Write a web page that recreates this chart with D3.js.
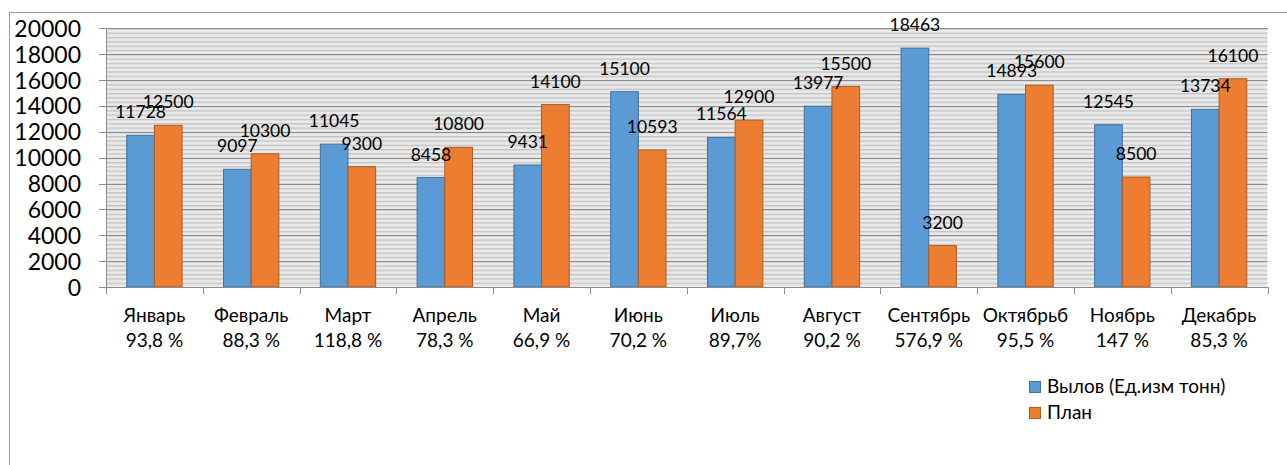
<!DOCTYPE html>
<html>
<head>
<meta charset="utf-8">
<script src="https://cdn.jsdelivr.net/npm/d3@7"></script>
<style>
  body { margin: 0; background: #fff; }
  svg { display: block; font-family: Lato, "Open Sans", sans-serif; }
</style>
</head>
<body>
<svg id="chart" width="1287" height="465"></svg>
<script>
// data
const months = ["Январь", "Февраль", "Март", "Апрель", "Май", "Июнь", "Июль", "Август", "Сентябрь", "Октябрьб", "Ноябрь", "Декабрь"];
const percents = ["93,8 %", "88,3 %", "118,8 %", "78,3 %", "66,9 %", "70,2 %", "89,7%", "90,2 %", "576,9 %", "95,5 %", "147 %", "85,3 %"];
const catchValues = [11728, 9097, 11045, 8458, 9431, 15100, 11564, 13977, 18463, 14893, 12545, 13734];
const planValues = [12500, 10300, 9300, 10800, 14100, 10593, 12900, 15500, 3200, 15600, 8500, 16100];
const seriesNames = ["Вылов (Ед.изм тонн)", "План"];
const yTicks = [0, 2000, 4000, 6000, 8000, 10000, 12000, 14000, 16000, 18000, 20000];

const colors = ["#5b9bd5", "#ed7d31"];
const strokes = ["#41719c", "#ae5a21"];

const svg = d3.select("#chart");

// outer chart border
svg.append("rect")
  .attr("x", 9.5).attr("y", 12.5)
  .attr("width", 1300).attr("height", 480)
  .attr("fill", "none").attr("stroke", "#9a9a9a");

const plotLeft = 106, plotRight = 1267.5, plotTop = 28.3, plotBottom = 287;

const x = d3.scaleBand().domain(months).range([plotLeft, plotRight]).padding(0);
const y = d3.scaleLinear().domain([0, 20000]).range([plotBottom, plotTop]);

// hatched plot background
const step = (y(0) - y(2000)) / 6;
const defs = svg.append("defs");
const pat = defs.append("pattern")
  .attr("id", "hatch")
  .attr("patternUnits", "userSpaceOnUse")
  .attr("x", 0).attr("y", plotTop)
  .attr("width", 8).attr("height", step);
pat.append("rect").attr("width", 8).attr("height", step).attr("fill", "#e9e9e9");
pat.append("rect").attr("y", 0).attr("width", 8).attr("height", 1.3).attr("fill", "#c3c3c3");

svg.append("rect")
  .attr("x", plotLeft).attr("y", plotTop)
  .attr("width", plotRight - plotLeft).attr("height", plotBottom - plotTop)
  .attr("fill", "url(#hatch)");

// major gridlines + y axis ticks
svg.append("g").selectAll("line")
  .data(yTicks)
  .join("line")
  .attr("x1", plotLeft - 7).attr("x2", plotRight)
  .attr("y1", d => Math.round(y(d)) + 0.5).attr("y2", d => Math.round(y(d)) + 0.5)
  .attr("stroke", "#8c8c8c").attr("stroke-width", 1);

svg.append("g").selectAll("text")
  .data(yTicks)
  .join("text")
  .attr("x", 81).attr("y", d => y(d) + 8.5)
  .attr("text-anchor", "end")
  .attr("font-size", 23)
  .attr("fill", "#000")
  .text(d => d);

// y axis line
svg.append("line")
  .attr("x1", plotLeft + 0.5).attr("x2", plotLeft + 0.5)
  .attr("y1", plotTop).attr("y2", plotBottom)
  .attr("stroke", "#8c8c8c");

// bars
const bw = x.bandwidth();
const barW = bw / 3.5;
const offset = bw * 0.75 / 3.5;
const series = [catchValues, planValues];

series.forEach((vals, s) => {
  const g = svg.append("g");
  g.selectAll("rect")
    .data(vals)
    .join("rect")
    .attr("x", (d, i) => x(months[i]) + offset + s * barW)
    .attr("y", d => y(d))
    .attr("width", barW)
    .attr("height", d => y(0) - y(d))
    .attr("fill", colors[s])
    .attr("stroke", strokes[s])
    .attr("stroke-width", 1);
});

// x axis line and ticks
svg.append("line")
  .attr("x1", plotLeft).attr("x2", plotRight)
  .attr("y1", plotBottom + 0.5).attr("y2", plotBottom + 0.5)
  .attr("stroke", "#8c8c8c");

svg.append("g").selectAll("line")
  .data(d3.range(months.length + 1))
  .join("line")
  .attr("x1", i => Math.round(plotLeft + i * bw) + 0.5)
  .attr("x2", i => Math.round(plotLeft + i * bw) + 0.5)
  .attr("y1", plotBottom).attr("y2", plotBottom + 7)
  .attr("stroke", "#8c8c8c");

// data labels (they overlap a little in the original too)
series.forEach((vals, s) => {
  svg.append("g").selectAll("text")
    .data(vals)
    .join("text")
    .attr("x", (d, i) => x(months[i]) + offset + s * barW + barW / 2)
    .attr("y", d => y(d) - 17)
    .attr("text-anchor", "middle")
    .attr("font-size", 17.5)
    .attr("fill", "#000")
    .text(d => d);
});

// category labels
const cat = svg.append("g").selectAll("text")
  .data(months)
  .join("text")
  .attr("text-anchor", "middle")
  .attr("font-size", 19)
  .attr("fill", "#000");
cat.append("tspan")
  .attr("x", d => x(d) + bw / 2).attr("y", 322)
  .text(d => d);
cat.append("tspan")
  .attr("x", d => x(d) + bw / 2).attr("y", 347)
  .text((d, i) => percents[i]);

// legend
const legend = svg.append("g").selectAll("g")
  .data(seriesNames)
  .join("g")
  .attr("transform", (d, i) => `translate(1029, ${381 + i * 26})`);
legend.append("rect")
  .attr("x", 0.5).attr("y", 0.5)
  .attr("width", 11).attr("height", 11)
  .attr("fill", (d, i) => colors[i])
  .attr("stroke", (d, i) => strokes[i]);
legend.append("text")
  .attr("x", 18).attr("y", 12)
  .attr("font-size", 19)
  .attr("fill", "#000")
  .text(d => d);
</script>
</body>
</html>
